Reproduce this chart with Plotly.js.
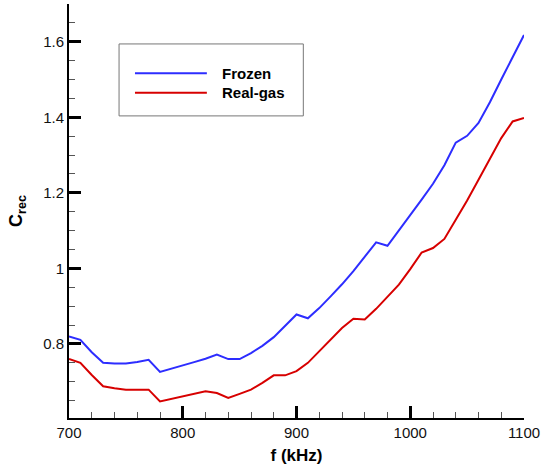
<!DOCTYPE html>
<html>
<head>
<meta charset="utf-8">
<script src="https://cdn.plot.ly/plotly-3.0.1.min.js"></script>
<style>
  html, body { margin: 0; padding: 0; background: #fff; }
  #chart { width: 542px; height: 465px; }
</style>
</head>
<body>
<div id="chart"></div>
<script>
const freq = [700,710,720,730,740,750,760,770,780,790,800,810,820,830,840,850,860,870,880,890,900,910,920,930,940,950,960,970,980,990,1000,1010,1020,1030,1040,1050,1060,1070,1080,1090,1100];
const frozen = [0.820,0.811,0.778,0.750,0.748,0.748,0.752,0.758,0.726,0.734,0.743,0.752,0.761,0.772,0.760,0.760,0.776,0.795,0.818,0.847,0.878,0.868,0.895,0.926,0.958,0.993,1.030,1.069,1.060,1.100,1.142,1.182,1.224,1.273,1.333,1.351,1.385,1.440,1.500,1.560,1.618];
const realGas = [0.760,0.750,0.718,0.688,0.683,0.679,0.679,0.679,0.648,0.655,0.661,0.668,0.675,0.670,0.657,0.668,0.679,0.697,0.717,0.717,0.728,0.750,0.780,0.810,0.842,0.867,0.865,0.893,0.925,0.957,0.998,1.042,1.054,1.078,1.129,1.180,1.235,1.290,1.345,1.389,1.398];
const xTicks = [700, 800, 900, 1000, 1100];
const yTicks = [0.8, 1, 1.2, 1.4, 1.6];
const seriesNames = ["Frozen", "Real-gas"];
const seriesColors = ["rgb(45,45,255)", "rgb(215,0,0)"];

const traces = [
  {x: freq, y: frozen, name: seriesNames[0], mode: "lines", line: {color: seriesColors[0], width: 2}},
  {x: freq, y: realGas, name: seriesNames[1], mode: "lines", line: {color: seriesColors[1], width: 2}}
];

const font = "Arial";
const axisCommon = {
  showgrid: false, zeroline: false, showline: true, linecolor: "#000", linewidth: 2,
  ticks: "inside", ticklen: 12, tickwidth: 2.5, tickcolor: "#000",
  tickfont: {family: font, size: 15, color: "#111"},
  tickmode: "array"
};

const layout = {
  width: 542, height: 465,
  margin: {l: 69, r: 18, t: 4, b: 47},
  showlegend: false,
  xaxis: Object.assign({}, axisCommon, {
    range: [700, 1100], tickvals: xTicks, ticktext: xTicks.map(String),
    minor: {tick0: 700, dtick: 20, ticks: "inside", ticklen: 6, tickwidth: 1, tickcolor: "#555"},
    title: {text: "<b>f (kHz)</b>", font: {family: font, size: 17, color: "#000"}}
  }),
  yaxis: Object.assign({}, axisCommon, {
    range: [0.604, 1.70], tickvals: yTicks, ticktext: yTicks.map(String),
    minor: {tick0: 0, dtick: 0.05, ticks: "inside", ticklen: 6, tickwidth: 1, tickcolor: "#555"},
    title: {text: "<b>C<sub>rec</sub></b>", font: {family: font, size: 18, color: "#000"}}
  }),
  shapes: [
    {type: "rect", xref: "paper", yref: "paper", x0: 0.110, x1: 0.515, y0: 0.7297, y1: 0.9035,
     line: {color: "#777", width: 1}},
    {type: "line", xref: "paper", yref: "paper", x0: 0.145, x1: 0.303, y0: 0.8327, y1: 0.8327,
     line: {color: seriesColors[0], width: 2}},
    {type: "line", xref: "paper", yref: "paper", x0: 0.145, x1: 0.303, y0: 0.7859, y1: 0.7859,
     line: {color: seriesColors[1], width: 2}}
  ],
  annotations: [
    {xref: "paper", yref: "paper", x: 0.332, y: 0.8327, xanchor: "left", yanchor: "middle", showarrow: false,
     text: "<b>" + seriesNames[0] + "</b>", font: {family: font, size: 15, color: "#000"}},
    {xref: "paper", yref: "paper", x: 0.332, y: 0.7859, xanchor: "left", yanchor: "middle", showarrow: false,
     text: "<b>" + seriesNames[1] + "</b>", font: {family: font, size: 15, color: "#000"}}
  ]
};

Plotly.newPlot("chart", traces, layout, {displayModeBar: false});
</script>
</body>
</html>
